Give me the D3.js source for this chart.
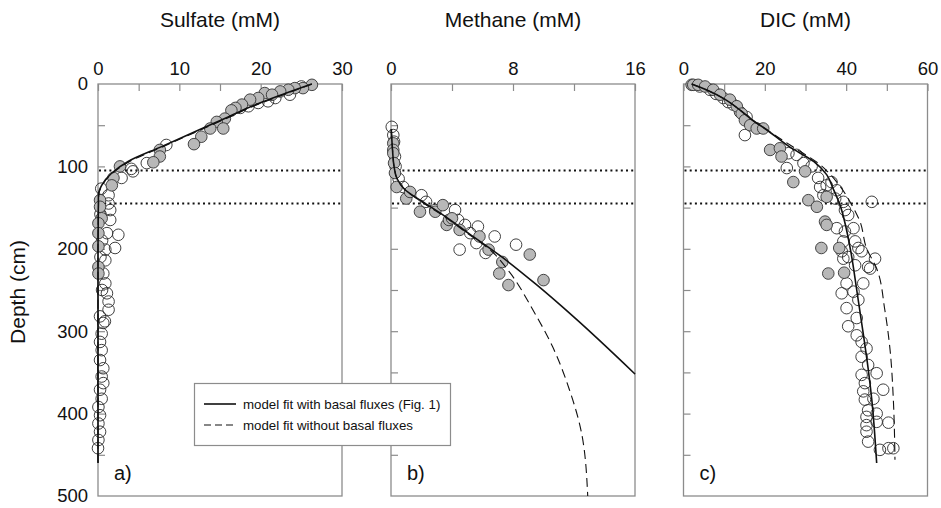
<!DOCTYPE html>
<html>
<head>
<meta charset="utf-8">
<script src="https://cdnjs.cloudflare.com/ajax/libs/d3/7.8.5/d3.min.js"></script>
<style>
  body { margin: 0; background: #fff; }
  text { font-family: Arial, "Liberation Sans", sans-serif; fill: #111; }
</style>
</head>
<body>
<script>
// depth (cm) shared by all three panels
const depthTicks = [0, 50, 100, 150, 200, 250, 300, 350, 400, 450, 500];
const depthLabels = [0, 100, 200, 300, 400, 500];
const smtzDepths = [105, 145];   // dotted lines

// a) sulfate  [mM, depth]
const sulfateTicks = [0, 5, 10, 15, 20, 25, 30];
const sulfateLabels = [0, 10, 20, 30];
const sulfateFilled = [[26.3,1],[25.2,5],[24.2,5],[23.4,7],[22.4,9],[20.5,11],[21.4,13],[19.7,17],[18.7,19],[17.7,25],
  [16.9,29],[16.4,32],[15.6,42],[14.6,46],[15.4,54],[13.8,54],[12.7,64],[11.8,73],[7.6,80],[7.6,88],[6.8,95],
  [2.7,100],[1.9,114],[1.7,123],[0.25,141],[0.25,149],[0.45,163],[0.05,169],[0.05,181],[0.05,197],[0.05,222],[0.05,230]];
const sulfateOpen = [[25,3],[23.6,13],[21.8,17],[20.9,21],[19.7,23],[18.5,27],[17.5,29],[8.4,74],[6,96],[4.3,106],
  [4.1,103],[2.9,114],[0.4,127],[1.3,135],[1.3,145],[1.5,153],[0.3,158],[1.5,165],[1.1,181],[2.5,183],[0.5,190],
  [2.1,199],[0.9,201],[0.3,210],[0.9,214],[0.65,230],[0.9,242],[0.5,250],[1.1,254],[1.3,264],[1.3,274],[0.25,282],
  [0.85,288],[0.65,290],[0.45,303],[0.25,313],[0.45,323],[0.25,335],[0.65,345],[0.45,355],[0.65,363],[0.25,371],
  [0.45,382],[0.05,392],[0.25,402],[0.05,412],[0.25,422],[0.05,432],[0,442]];
const sulfateFit = [[26.3,0],[22.6,13],[18.9,27],[16.0,40],[11.9,58],[7.8,76],[3.7,94],[1.7,108],[0.45,123],
  [0.05,135],[0,200],[0,300],[0,400],[0,460]];
const sulfateFitNoBasal = [[26.3,0],[22.8,13],[19.1,27],[16.2,40],[12.1,58],[8.0,76],[3.9,94],[1.8,108],[0.5,123],
  [0.1,135],[0,200],[0,300],[0,400],[0,460]];

// b) methane
const methaneTicks = [0, 4, 8, 12, 16];
const methaneLabels = [0, 8, 16];
const methaneFilled = [[0.15,72],[0.15,80],[0.15,84],[0.2,96],[0.26,108],[0.37,125],[1.0,139],[1.25,131],[1.9,155],
  [2.9,155],[3.4,147],[3.65,171],[3.8,165],[4.0,163],[4.5,177],[5.8,185],[6.4,201],[7.3,216],[7.1,230],[7.7,244],
  [9.1,207],[10.0,238]];
const methaneOpen = [[0.05,52],[0.15,62],[0.2,70],[0.26,88],[0.3,100],[0.5,115],[0.8,125],[2.0,135],[2.3,143],
  [2.9,153],[4.2,153],[4.4,165],[4.85,171],[5.2,181],[5.7,173],[5.6,193],[6.2,205],[6.8,185],[4.5,201],[8.2,195]];
const methaneFit = [[0.02,55],[0.1,80],[0.2,100],[0.4,115],[0.9,128],[2,142],[3.5,160],[5.07,181],[7.2,209],
  [9.5,243],[12,283],[16,352]];
const methaneFitNoBasal = [[0.02,55],[0.1,80],[0.2,100],[0.4,115],[0.9,128],[2,143],[3.5,161],[5.0,181],[6.6,203],
  [7.8,229],[9.3,274],[10.6,319],[11.7,371],[12.5,424],[12.9,500]];

// c) DIC
const dicTicks = [0, 10, 20, 30, 40, 50, 60];
const dicLabels = [0, 20, 40, 60];
const dicFilled = [[2,1],[2.4,1],[3.6,1],[5.3,3],[7.3,7],[9,13],[11.4,19],[13.1,27],[14.3,36],[15.1,44],[16.4,50],
  [18,54],[19.6,54],[21.3,80],[23.7,78],[24.1,88],[27,119],[29.9,106],[30.7,141],[32.8,149],[34.8,167],[35.2,171],
  [35.2,137],[33.9,199],[38.3,199],[35.6,230],[39.5,229]];
const dicOpen = [[4,3],[6.5,7],[8,12],[9.8,17],[11,22],[12.2,25],[13.9,34],[15.5,40],[15.1,62],[25.8,84],[27.8,86],
  [29.5,96],[25.4,102],[31.5,100],[33.1,114],[33.6,125],[35.2,123],[36.4,119],[37.7,129],[34.4,135],[37.3,139],
  [39.3,143],[39.7,153],[40.5,159],[37.7,175],[39.7,179],[41.8,175],[42.2,191],[43,199],[39.3,191],[38.9,203],
  [40.5,210],[46.3,143],[43.8,203],[45.4,222],[47.1,212],[45.9,224],[39.3,212],[42.2,220],[44.2,242],[40.1,242],
  [38.9,254],[41.8,252],[43,262],[40.1,272],[42.6,284],[40.5,294],[42.6,305],[43.8,313],[45,321],[43.8,331],
  [45.4,341],[43.8,353],[47.5,351],[44.6,363],[44.2,373],[49.1,371],[46.7,382],[44.6,383],[45.4,396],[47.5,400],
  [45,404],[47.5,410],[50.4,411],[45,414],[45,422],[45.4,434],[48.3,444],[50.4,442],[51.6,442]];
const dicFit = [[2,0],[6,8],[10,18],[14,32],[17,44],[20,54],[26,76],[32,94],[35.2,110],[36.8,127],[38.5,147],
  [40,175],[41.2,205],[42.6,250],[44.2,303],[45.4,345],[46.3,383],[47.5,460]];
const dicFitNoBasal = [[2,0],[6,8],[10,18],[14,32],[17,44],[20,54],[26.5,75],[33.6,98],[37.7,119],[41.4,147],
  [43.4,167],[45,199],[47.5,224],[49.5,274],[50.8,323],[51.6,383],[52,456]];

const legendItems = ["model fit with basal fluxes (Fig. 1)", "model fit without basal fluxes"];

const panels = [
  {title: "Sulfate (mM)", tag: "a)", x0: 98, x1: 342, max: 30, ticks: sulfateTicks, labels: sulfateLabels,
   filled: sulfateFilled, open: sulfateOpen, fit: sulfateFit, fit2: sulfateFitNoBasal, yLabels: true},
  {title: "Methane (mM)", tag: "b)", x0: 391, x1: 635, max: 16, ticks: methaneTicks, labels: methaneLabels,
   filled: methaneFilled, open: methaneOpen, fit: methaneFit, fit2: methaneFitNoBasal},
  {title: "DIC (mM)", tag: "c)", x0: 683.5, x1: 927.5, max: 60, ticks: dicTicks, labels: dicLabels,
   filled: dicFilled, open: dicOpen, fit: dicFit, fit2: dicFitNoBasal}
];

const W = 941, H = 508, plotTop = 84, plotBottom = 496;
const frameColor = "#8c8c8c";

const svg = d3.select("body").append("svg")
  .attr("width", W).attr("height", H);

const y = d3.scaleLinear().domain([0, 500]).range([plotTop, plotBottom]);

panels.forEach(p => {
  const x = d3.scaleLinear().domain([0, p.max]).range([p.x0, p.x1]);
  const g = svg.append("g");

  // frame
  g.append("rect")
    .attr("x", p.x0).attr("y", plotTop)
    .attr("width", p.x1 - p.x0).attr("height", plotBottom - plotTop)
    .attr("fill", "none").attr("stroke", frameColor).attr("stroke-width", 1.3);

  // top axis, ticks pointing in
  const ax = g.append("g").attr("transform", `translate(0,${plotTop})`)
    .call(d3.axisTop(x).tickValues(p.ticks).tickSize(-7).tickPadding(9)
      .tickFormat(d => p.labels.includes(d) ? d : ""));
  ax.select(".domain").remove();
  ax.selectAll("line").attr("stroke", frameColor).attr("stroke-width", 1.2);
  ax.selectAll("text").attr("font-size", 18.5).attr("fill", "#111")
    .style("font-family", "Arial, 'Liberation Sans', sans-serif");

  // left axis
  const ay = g.append("g").attr("transform", `translate(${p.x0},0)`)
    .call(d3.axisLeft(y).tickValues(depthTicks).tickSize(-7).tickPadding(10)
      .tickFormat(d => p.yLabels && depthLabels.includes(d) ? d : ""));
  ay.select(".domain").remove();
  ay.selectAll(".tick line").filter(d => d === 0 || d === 500).remove();
  ay.selectAll("line").attr("stroke", frameColor).attr("stroke-width", 1.2);
  ay.selectAll("text").attr("font-size", 18.5).attr("fill", "#111")
    .style("font-family", "Arial, 'Liberation Sans', sans-serif");

  // dotted lines
  g.selectAll(".smtz").data(smtzDepths).join("line")
    .attr("x1", p.x0 + 1).attr("x2", p.x1)
    .attr("y1", d => y(d)).attr("y2", d => y(d))
    .attr("stroke", "#111").attr("stroke-width", 2)
    .attr("stroke-dasharray", "2,3.2");

  // data
  g.selectAll(".open").data(p.open).join("circle")
    .attr("cx", d => x(d[0])).attr("cy", d => y(d[1])).attr("r", 5.8)
    .attr("fill", "none").attr("stroke", "#2a2a2a").attr("stroke-width", 0.9);
  g.selectAll(".filled").data(p.filled).join("circle")
    .attr("cx", d => x(d[0])).attr("cy", d => y(d[1])).attr("r", 5.8)
    .attr("fill", "#b8b8b8").attr("stroke", "#333").attr("stroke-width", 0.9);

  // model fits
  const line = d3.line().x(d => x(d[0])).y(d => y(d[1])).curve(d3.curveMonotoneY);
  g.append("path").datum(p.fit2).attr("d", line)
    .attr("fill", "none").attr("stroke", "#111").attr("stroke-width", 1.1)
    .attr("stroke-dasharray", "9,5");
  g.append("path").datum(p.fit).attr("d", line)
    .attr("fill", "none").attr("stroke", "#111").attr("stroke-width", 1.6);

  // titles
  g.append("text")
    .attr("x", (p.x0 + p.x1) / 2).attr("y", 27)
    .attr("text-anchor", "middle").attr("font-size", 21)
    .text(p.title);
  g.append("text")
    .attr("x", p.x0 + 16).attr("y", 480)
    .attr("font-size", 20)
    .text(p.tag);
});

// y axis title
svg.append("text")
  .attr("transform", "translate(25,292) rotate(-90)")
  .attr("text-anchor", "middle").attr("font-size", 21)
  .text("Depth (cm)");

// legend
const lg = svg.append("g");
lg.append("rect")
  .attr("x", 194.5).attr("y", 383.5).attr("width", 256).attr("height", 62)
  .attr("fill", "#fff").attr("stroke", frameColor).attr("stroke-width", 1.2);
lg.selectAll(".li").data(legendItems).join("g")
  .attr("transform", (d, i) => `translate(204,${404 + i * 21})`)
  .each(function(d, i) {
    const s = d3.select(this);
    s.append("line").attr("x1", 0).attr("x2", 32).attr("y1", 0).attr("y2", 0)
      .attr("stroke", "#111").attr("stroke-width", i === 0 ? 1.6 : 1.1)
      .attr("stroke-dasharray", i === 0 ? null : "7,4");
    s.append("text").attr("x", 39).attr("y", 0).attr("dy", "0.35em")
      .attr("font-size", 13.3).text(d);
  });
</script>
</body>
</html>
